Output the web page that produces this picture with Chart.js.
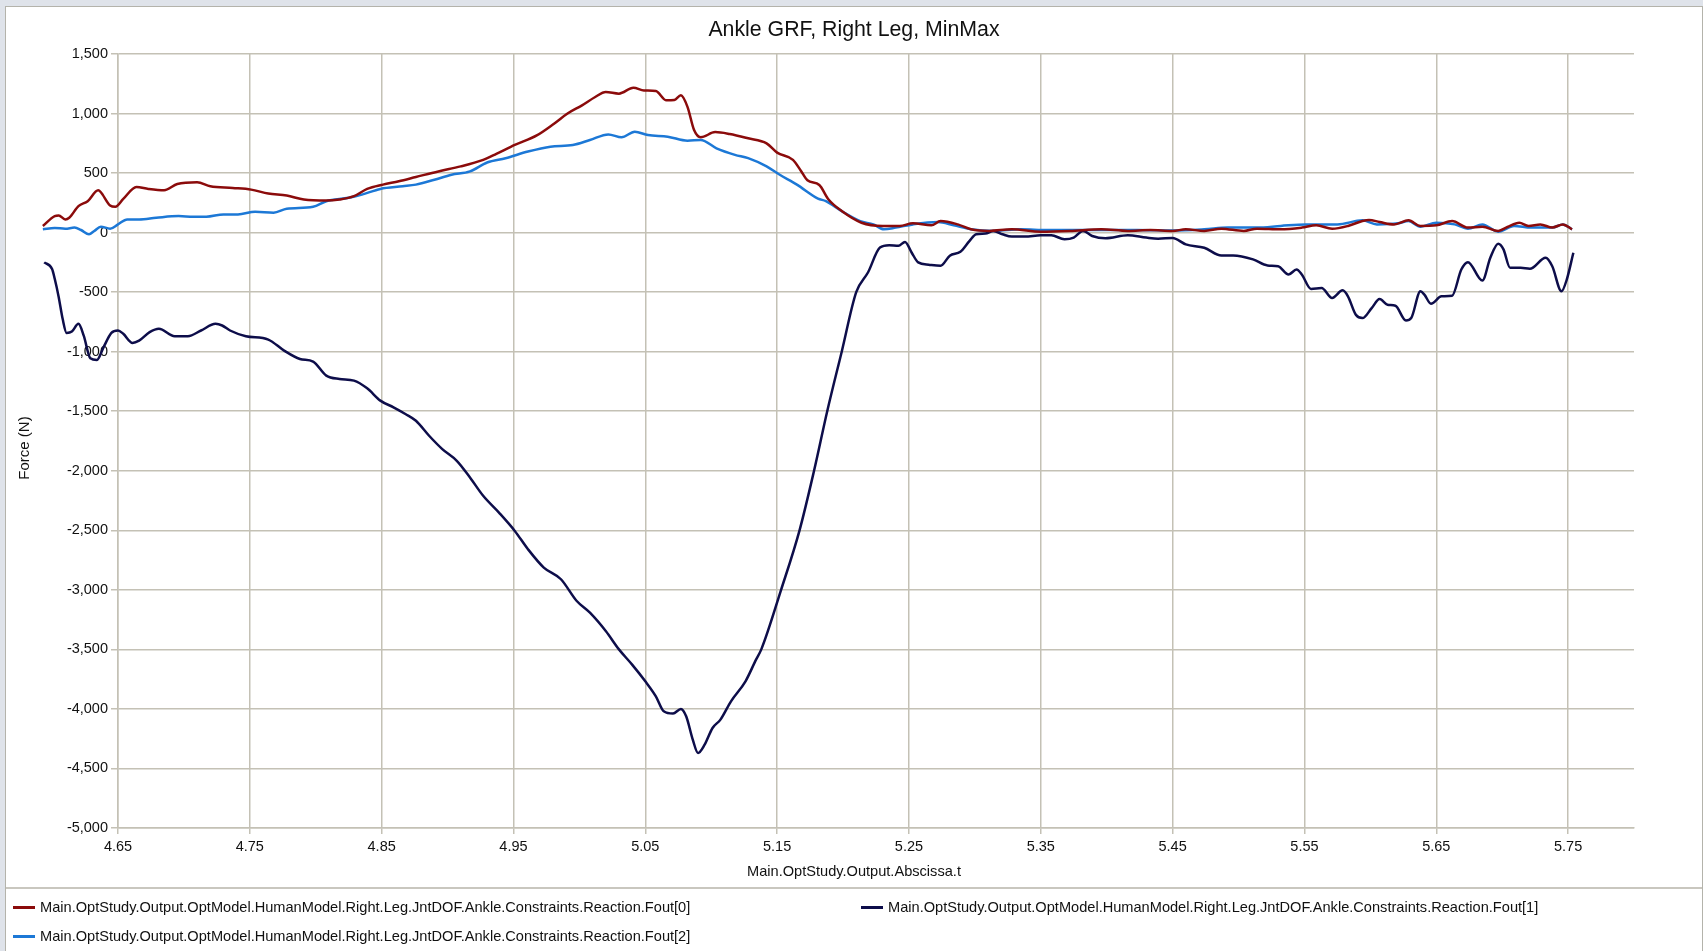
<!DOCTYPE html>
<html>
<head>
<meta charset="utf-8">
<script src="https://cdn.jsdelivr.net/npm/chart.js@4/dist/chart.umd.min.js"></script>
<style>
  html, body { margin: 0; padding: 0; }
  body { width: 1703px; height: 951px; background: #dfe3ea; position: relative; overflow: hidden;
         font-family: 'Liberation Sans', Arial, sans-serif; color: #111; }
  #panel { position: absolute; left: 5px; top: 6px; width: 1696px; height: 945px; background: #fff;
           border-left: 1px solid #b4b3ab; border-top: 1px solid #b4b3ab; border-right: 1px solid #b4b3ab; }
  #sep { position: absolute; left: 6px; top: 887px; width: 1696px; height: 2px; background: #c9c7bf; }
  #cv { position: absolute; left: 0; top: 0; }
  .txt { position: absolute; white-space: nowrap; }
  #title { left: 0; width: 1708px; text-align: center; top: 16px; font-size: 21.3px; line-height: 26px; }
  #xtitle { left: 0; width: 1708px; text-align: center; top: 862px; font-size: 14.6px; line-height: 18px; }
  #ytitle { left: 24px; top: 448px; font-size: 15px; line-height: 18px; transform: translate(-50%, -50%) rotate(-90deg); }
  .leg { position: absolute; font-size: 14.6px; line-height: 18px; white-space: nowrap; }
  .leg .sw { position: absolute; left: 0; top: 8px; width: 22px; height: 3px; }
  .leg .lt { position: absolute; left: 27px; top: 0; }
</style>
</head>
<body>
<div id="panel"></div>
<div id="sep"></div>
<canvas id="cv" width="1703" height="951"></canvas>
<div id="title" class="txt">Ankle GRF, Right Leg, MinMax</div>
<div id="xtitle" class="txt">Main.OptStudy.Output.Abscissa.t</div>
<div id="ytitle" class="txt">Force (N)</div>
<div id="legend"></div>
<script>
// ---- Data ----
const seriesLabels = [
  'Main.OptStudy.Output.OptModel.HumanModel.Right.Leg.JntDOF.Ankle.Constraints.Reaction.Fout[0]',
  'Main.OptStudy.Output.OptModel.HumanModel.Right.Leg.JntDOF.Ankle.Constraints.Reaction.Fout[1]',
  'Main.OptStudy.Output.OptModel.HumanModel.Right.Leg.JntDOF.Ankle.Constraints.Reaction.Fout[2]'
];
const seriesColors = ['#8b0b0b', '#0d0d4a', '#1c78d6'];

const fout0T = [4.593,4.602,4.605,4.610,4.613,4.620,4.627,4.635,4.637,4.644,4.648,4.654,4.664,4.673,4.685,4.695,4.710,4.720,4.737,4.751,4.764,4.778,4.791,4.808,4.818,4.829,4.839,4.851,4.863,4.876,4.893,4.910,4.927,4.937,4.951,4.968,4.981,4.991,5.002,5.012,5.020,5.030,5.041,5.049,5.058,5.066,5.072,5.077,5.082,5.087,5.092,5.103,5.114,5.128,5.142,5.150,5.162,5.168,5.173,5.182,5.189,5.199,5.214,5.230,5.243,5.253,5.267,5.274,5.287,5.297,5.311,5.328,5.350,5.372,5.396,5.416,5.433,5.450,5.460,5.474,5.487,5.504,5.514,5.532,5.548,5.559,5.571,5.583,5.594,5.599,5.607,5.618,5.629,5.638,5.650,5.662,5.674,5.685,5.697,5.704,5.713,5.720,5.729,5.738,5.746,5.753];
const fout0V = [56,139,144,111,125,222,264,356,339,228,217,283,383,367,356,408,422,389,375,361,328,311,278,269,278,306,367,403,431,467,514,556,611,661,736,819,917,1000,1069,1139,1181,1167,1217,1194,1189,1111,1114,1153,1056,861,800,844,828,792,750,672,611,520,440,400,278,181,83,56,56,78,61,97,69,28,14,28,8,14,28,14,22,14,28,14,33,14,33,28,42,61,33,56,97,106,89,69,103,56,61,97,42,50,14,47,83,56,69,42,69,28];

const fout1T = [4.594,4.600,4.602,4.605,4.608,4.611,4.615,4.620,4.624,4.629,4.634,4.639,4.645,4.650,4.654,4.661,4.666,4.674,4.681,4.693,4.703,4.713,4.724,4.729,4.735,4.747,4.764,4.776,4.788,4.798,4.808,4.818,4.829,4.839,4.849,4.859,4.868,4.876,4.886,4.896,4.907,4.917,4.927,4.939,4.951,4.961,4.973,4.986,4.998,5.008,5.020,5.030,5.040,5.050,5.058,5.064,5.071,5.077,5.081,5.086,5.090,5.095,5.101,5.107,5.115,5.126,5.134,5.138,5.153,5.167,5.178,5.188,5.199,5.210,5.219,5.228,5.235,5.242,5.247,5.252,5.257,5.265,5.274,5.281,5.289,5.296,5.301,5.308,5.314,5.321,5.328,5.338,5.350,5.358,5.368,5.375,5.382,5.389,5.399,5.416,5.430,5.439,5.450,5.460,5.474,5.487,5.496,5.511,5.522,5.530,5.538,5.544,5.548,5.555,5.563,5.571,5.579,5.583,5.589,5.594,5.601,5.607,5.613,5.619,5.627,5.631,5.638,5.641,5.646,5.654,5.662,5.669,5.674,5.685,5.691,5.697,5.701,5.706,5.714,5.721,5.733,5.738,5.745,5.749,5.754];
const fout1V = [-250,-306,-388,-540,-724,-842,-831,-766,-865,-1055,-1069,-963,-842,-822,-850,-926,-907,-836,-808,-870,-870,-822,-766,-780,-822,-870,-898,-991,-1061,-1083,-1201,-1229,-1243,-1308,-1411,-1467,-1523,-1580,-1706,-1818,-1916,-2056,-2210,-2351,-2505,-2659,-2813,-2911,-3094,-3192,-3346,-3500,-3628,-3768,-3894,-4020,-4039,-4000,-4062,-4258,-4370,-4300,-4160,-4090,-3936,-3768,-3586,-3500,-3000,-2500,-2000,-1500,-1000,-500,-333,-125,-106,-111,-78,-167,-250,-269,-278,-194,-161,-69,-14,-8,14,-14,-33,-33,-22,-22,-56,-42,14,-28,-47,-22,-42,-51,-45,-99,-127,-192,-192,-225,-276,-282,-352,-310,-352,-473,-465,-549,-485,-535,-690,-718,-634,-558,-606,-614,-738,-718,-493,-521,-597,-535,-530,-310,-248,-403,-211,-93,-141,-296,-296,-304,-211,-282,-493,-394,-169];

const fout2T = [4.593,4.602,4.610,4.617,4.622,4.628,4.632,4.637,4.644,4.650,4.657,4.666,4.679,4.696,4.707,4.717,4.730,4.741,4.754,4.768,4.778,4.798,4.808,4.825,4.835,4.849,4.866,4.876,4.890,4.903,4.917,4.930,4.944,4.961,4.978,4.995,5.008,5.022,5.032,5.042,5.052,5.067,5.082,5.092,5.104,5.118,5.128,5.142,5.152,5.165,5.181,5.187,5.199,5.213,5.223,5.231,5.240,5.253,5.272,5.284,5.297,5.314,5.335,5.355,5.389,5.423,5.450,5.474,5.492,5.514,5.532,5.551,5.575,5.594,5.605,5.621,5.629,5.638,5.650,5.664,5.674,5.685,5.697,5.709,5.722,5.738,5.746,5.753];
const fout2V = [28,39,33,42,22,-14,14,50,33,69,111,111,125,139,133,133,153,153,175,167,200,217,264,292,319,367,389,403,444,486,514,589,625,681,722,736,778,825,800,847,819,806,772,778,708,653,625,556,486,403,286,264,181,97,69,28,42,69,89,61,28,14,28,22,22,22,18,28,42,42,56,69,69,103,69,78,97,50,83,69,33,69,8,56,42,42,69,28];

const xTicks = [4.65,4.75,4.85,4.95,5.05,5.15,5.25,5.35,5.45,5.55,5.65,5.75];
const xTickLabels = ['4.65','4.75','4.85','4.95','5.05','5.15','5.25','5.35','5.45','5.55','5.65','5.75'];
const xMin = 4.65, xMax = 5.80;
const yMin = -5000, yMax = 1500, yStep = 500;

// ---- Chart ----
function pts(ts, vs) { return ts.map((t, i) => ({ x: t, y: vs[i] })); }
const gridColor = '#c4c1b5';
const tickFont = { family: "'Liberation Sans', Arial, sans-serif", size: 14.5 };

const datasets = [
  { label: seriesLabels[0], data: pts(fout0T, fout0V), borderColor: seriesColors[0] },
  { label: seriesLabels[1], data: pts(fout1T, fout1V), borderColor: seriesColors[1] },
  { label: seriesLabels[2], data: pts(fout2T, fout2V), borderColor: seriesColors[2] }
].map(d => Object.assign(d, { borderWidth: 2.5, pointRadius: 0, fill: false, clip: false,
                               cubicInterpolationMode: 'monotone', backgroundColor: d.borderColor }));

const chart = new Chart(document.getElementById('cv'), {
  type: 'line',
  data: { datasets },
  options: {
    responsive: false,
    animation: false,
    devicePixelRatio: 1,
    layout: { padding: { top: 54, right: 69, left: 0, bottom: 0 } },
    plugins: { legend: { display: false }, title: { display: false }, tooltip: { enabled: false } },
    scales: {
      x: {
        type: 'linear',
        bounds: 'data',
        // bounds set here (not via min/max) so the curves may run left of the axis like the original
        afterDataLimits: (axis) => { axis.min = xMin; axis.max = xMax; },
        afterBuildTicks: (axis) => { axis.ticks = xTicks.map(v => ({ value: v })); axis.min = xMin; axis.max = xMax; },
        afterFit: (scale) => { scale.height = 123; },
        ticks: { font: tickFont, color: '#111', padding: 4, maxRotation: 0, autoSkip: false,
                 callback: (v, i) => xTickLabels[i] },
        grid: { color: gridColor, lineWidth: 1.5, tickLength: 6 },
        border: { color: gridColor, width: 1.5 }
      },
      y: {
        min: yMin, max: yMax,
        afterFit: (scale) => { scale.width = 118; },
        ticks: { stepSize: yStep, font: tickFont, color: '#111', padding: 3 },
        grid: { color: gridColor, lineWidth: 1.5, tickLength: 7 },
        border: { color: gridColor, width: 1.5 }
      }
    }
  }
});

// HTML legend from the chart's datasets
const legPos = [{ x: 13, y: 898 }, { x: 861, y: 898 }, { x: 13, y: 927 }];
const legend = document.getElementById('legend');
chart.data.datasets.forEach((ds, i) => {
  const item = document.createElement('div');
  item.className = 'leg';
  item.style.left = legPos[i].x + 'px';
  item.style.top = legPos[i].y + 'px';
  item.innerHTML = '<div class="sw" style="background:' + ds.borderColor + '"></div><div class="lt"></div>';
  item.querySelector('.lt').textContent = ds.label;
  legend.appendChild(item);
});
</script>
</body>
</html>
